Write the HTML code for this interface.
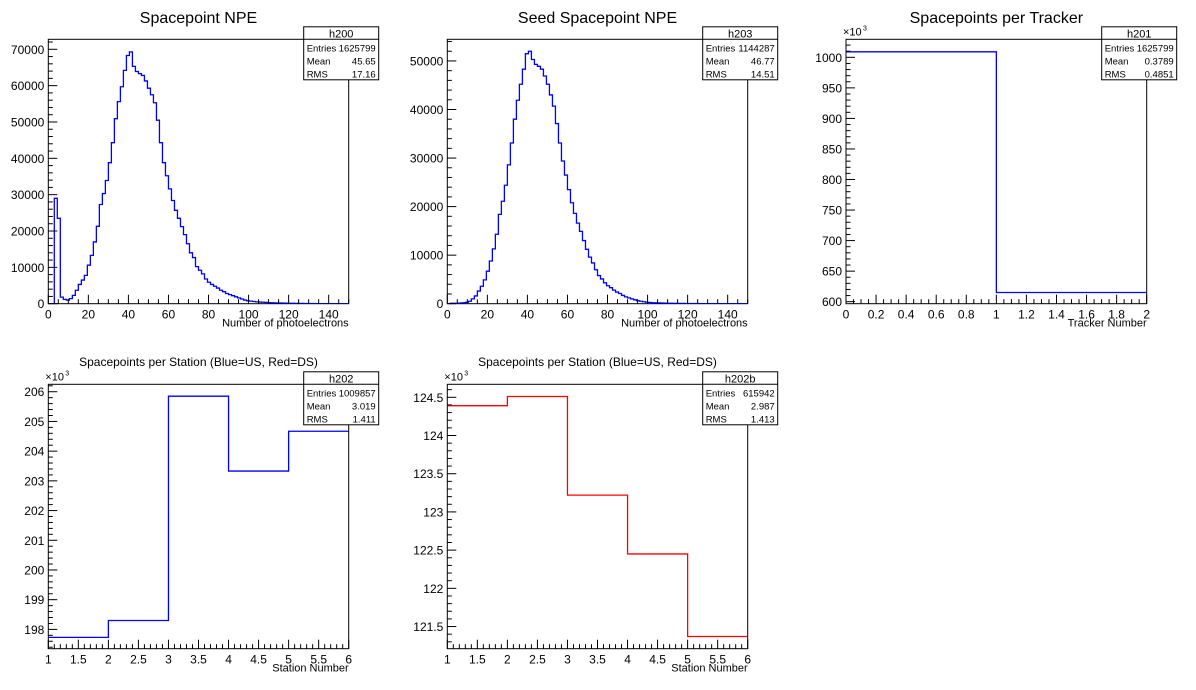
<!DOCTYPE html>
<html><head><meta charset="utf-8"><style>
html,body{margin:0;padding:0;background:#fff;}
svg{display:block;font-family:"Liberation Sans",Arial,sans-serif;}
</style></head><body>
<svg id="c" width="1196" height="690" viewBox="0 0 1196 690" xmlns="http://www.w3.org/2000/svg"></svg>
<script>
// ---- data ----
const npeValues = [0,0,29000,23500,1800,1200,1000,1400,2300,3700,5300,6500,7800,10600,13300,17000,21300,27300,30300,33900,38800,44300,50900,55600,59700,64200,68300,69300,65300,63900,63300,62800,61300,59300,57500,55300,50500,44300,38800,35200,31600,28400,25700,23500,21200,19000,16500,14000,12700,10200,9200,8200,6800,5900,5300,4800,4300,3700,3300,2800,2500,2200,1900,1600,1300,1000,800,700,600,500,450,400,350,300,250,220,200,180,160,140,120,100,90,80,70,60,50,40,35,30,25,20,18,15,12,10,8,6,5,4];
const seedNpeValues = [0,100,100,100,150,200,300,500,1000,1600,2600,3600,4900,6700,8800,11300,14300,18400,21100,24400,28600,33100,38000,41900,45200,48300,51500,52000,50300,49300,48900,48300,46900,45200,43000,40700,37100,33100,29400,26500,23500,20800,18600,16600,14900,13000,11200,9600,8400,7000,5800,5100,4300,3700,3300,2800,2400,2100,1700,1400,1200,1000,800,600,500,400,300,250,200,180,160,140,120,100,90,80,70,60,50,45,40,35,30,25,20,18,15,12,10,8,6,5,4,3,2,2,1,1,1,1];
const trackerValues = [1009, 615];
const stationUSValues = [197.73, 198.3, 205.85, 203.33, 204.67];
const stationDSValues = [124.39, 124.51, 123.22, 122.45, 121.37];
const npeYTicks = [0,10000,20000,30000,40000,50000,60000,70000];
const seedYTicks = [0,10000,20000,30000,40000,50000];
const npeXTicks = [0,20,40,60,80,100,120,140];
const trackerXTicks = [0,0.2,0.4,0.6,0.8,1,1.2,1.4,1.6,1.8,2];
const trackerYTicks = [600,650,700,750,800,850,900,950,1000];
const stationXTicks = [1,1.5,2,2.5,3,3.5,4,4.5,5,5.5,6];
const usYTicks = [198,199,200,201,202,203,204,205,206];
const dsYTicks = [121.5,122,122.5,123,123.5,124,124.5];

const svg = document.getElementById('c');
const NS = 'http://www.w3.org/2000/svg';
function mk(tag, attrs, parent){
  const e = document.createElementNS(NS, tag);
  for (const k in attrs) e.setAttribute(k, attrs[k]);
  (parent||svg).appendChild(e);
  return e;
}
function txt(s, x, y, size, anchor, parent){
  const t = mk('text', {x:x, y:y, 'font-size':size, 'text-anchor':anchor||'start', fill:'#000'}, parent);
  t.textContent = s;
  return t;
}
let clipId = 0;
function panel(o){
  const g = mk('g', {});
  
  
  const L=o.x0, R=o.x1, T=o.y0, B=o.y1;
  const sx = v => L + (v - o.xmin)/(o.xmax - o.xmin)*(R-L);
  const sy = v => B - (v - o.ymin)/(o.ymax - o.ymin)*(B-T);
  const tt = txt(o.title, (L+R)/2, o.titleY, o.titleSize, 'middle', g);
  
  
  const fr = mk('rect', {x:L, y:T, width:R-L, height:B-T, fill:'none', stroke:'#000', 'stroke-width':1}, g);
  
  
  const cid = 'cl'+(clipId++);
  const cp = mk('clipPath', {id:cid}, g);
  mk('rect', {x:L, y:T, width:R-L, height:B-T}, cp);
  const n = o.values.length, bw = (o.xmax-o.xmin)/n;
  let d = 'M'+sx(o.xmin)+','+sy(o.values[0]);
  for (let i=0;i<n;i++){
    const yv = sy(o.values[i]);
    if (i>0) d += ' L'+sx(o.xmin+i*bw)+','+yv;
    d += ' L'+sx(o.xmin+(i+1)*bw)+','+yv;
  }
  const p = mk('path', {d:d, fill:'none', stroke:o.color, 'stroke-width':1.3, 'clip-path':'url(#'+cid+')'}, g);
  
  
  const ya = mk('g', {}, g);
  
  
  const ys = o.yt[1]-o.yt[0];
  for (let v=o.yt[0]-ys; v<=o.ymax+1e-9; v+=ys){
    for (let k=0;k<o.ySub;k++){
      const vv = v + k*ys/o.ySub;
      if (vv < o.ymin-1e-9 || vv > o.ymax+1e-9) continue;
      const len = k===0 ? 9 : 4.5;
      mk('line', {x1:L, x2:L+len, y1:sy(vv), y2:sy(vv), stroke:'#000', 'stroke-width':1}, ya);
    }
  }
  o.yt.forEach(v => txt(String(v), L-4, sy(v)+4.5, 12, 'end', ya));
  if (o.x1e3) {
    txt('×10', L-3, T-4, 11, 'start', ya);
    txt('3', L+17, T-9, 7, 'start', ya);
  }
  const xa = mk('g', {}, g);
  
  
  const xs = o.xt[1]-o.xt[0];
  for (let v=o.xt[0]; v<=o.xmax+1e-9; v+=xs){
    for (let k=0;k<o.xSub;k++){
      const vv = v + k*xs/o.xSub;
      if (vv > o.xmax+1e-9) continue;
      const len = k===0 ? 9 : 4.5;
      mk('line', {x1:sx(vv), x2:sx(vv), y1:B, y2:B-len, stroke:'#000', 'stroke-width':1}, xa);
    }
  }
  o.xt.forEach(v => txt(String(v), sx(v), B+15, 12, 'middle', xa));
  const xt = txt(o.xlabel, R, B+23, 11, 'end', xa);
  
  
  const sb = mk('g', {}, g);
  
  
  const bx = R-45, by = T-12.5, bwid = 75, bh = 53;
  mk('rect', {x:bx, y:by, width:bwid, height:bh, fill:'#fff', stroke:'#000', 'stroke-width':1}, sb);
  mk('line', {x1:bx, x2:bx+bwid, y1:by+12.5, y2:by+12.5, stroke:'#000', 'stroke-width':1}, sb);
  txt(o.hname, bx+bwid/2, by+10.5, 11, 'middle', sb);
  const rows = [['Entries', o.stats[0]], ['Mean', o.stats[1]], ['RMS', o.stats[2]]];
  rows.forEach((r,i) => {
    txt(r[0], bx+3, by+24.5+i*13, 9.5, 'start', sb);
    txt(r[1], bx+bwid-3, by+24.5+i*13, 9.5, 'end', sb);
  });
}
panel({name:'spacepoint-npe-panel', title:'Spacepoint NPE', titleY:23, titleSize:16, x0:48.3, x1:348.7, y0:39.3, y1:303.7,
  xmin:0, xmax:150, ymin:0, ymax:72750, values:npeValues, color:'#0000ff', yt:npeYTicks, ySub:5, xt:npeXTicks, xSub:4,
  xlabel:'Number of photoelectrons', hname:'h200', stats:['1625799','45.65','17.16']});
panel({name:'seed-spacepoint-npe-panel', title:'Seed Spacepoint NPE', titleY:23, titleSize:16, x0:447.3, x1:747.7, y0:39.3, y1:303.7,
  xmin:0, xmax:150, ymin:0, ymax:54460, values:seedNpeValues, color:'#0000ff', yt:seedYTicks, ySub:5, xt:npeXTicks, xSub:4,
  xlabel:'Number of photoelectrons', hname:'h203', stats:['1144287','46.77','14.51']});
panel({name:'spacepoints-per-tracker-panel', title:'Spacepoints per Tracker', titleY:23, titleSize:16, x0:846, x1:1146.7, y0:39.3, y1:303.7,
  xmin:0, xmax:2, ymin:596.7, ymax:1029.5, values:trackerValues, color:'#0000ff', yt:trackerYTicks, ySub:5, xt:trackerXTicks, xSub:4,
  xlabel:'Tracker Number', hname:'h201', stats:['1625799','0.3789','0.4851'], x1e3:true});
panel({name:'spacepoints-per-station-us-panel', title:'Spacepoints per Station (Blue=US, Red=DS)', titleY:366, titleSize:12, x0:48.3, x1:348.7, y0:384.3, y1:648.7,
  xmin:1, xmax:6, ymin:197.35, ymax:206.25, values:stationUSValues, color:'#0000ff', yt:usYTicks, ySub:5, xt:stationXTicks, xSub:5,
  xlabel:'Station Number', hname:'h202', stats:['1009857','3.019','1.411'], x1e3:true});
panel({name:'spacepoints-per-station-ds-panel', title:'Spacepoints per Station (Blue=US, Red=DS)', titleY:366, titleSize:12, x0:447.3, x1:747.7, y0:384.3, y1:648.7,
  xmin:1, xmax:6, ymin:121.21, ymax:124.67, values:stationDSValues, color:'#ff0000', yt:dsYTicks, ySub:5, xt:stationXTicks, xSub:5,
  xlabel:'Station Number', hname:'h202b', stats:['615942','2.987','1.413'], x1e3:true});
</script>
</body></html>
